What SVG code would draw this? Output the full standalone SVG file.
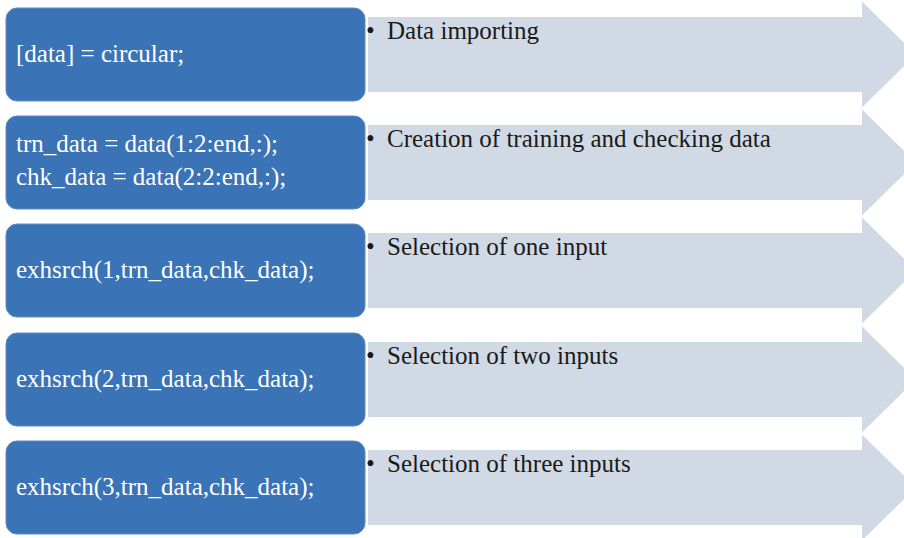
<svg xmlns="http://www.w3.org/2000/svg" width="904" height="538" viewBox="0 0 904 538">
<style>
.box{fill:#3A74B6;stroke:#5A8CC8;stroke-width:1}
.arr{fill:#D1D9E5}
.lt{font-family:"Liberation Serif","Times New Roman",serif;font-size:25px;fill:#FFFFFF}
.rt{font-family:"Liberation Serif","Times New Roman",serif;font-size:25px;fill:#1A1A1A}
</style>
<rect width="904" height="538" fill="#FFFFFF"/>
<g id="row1">
<path class="arr" d="M368,17 H862 V1.5 L916,54.5 L862,107.5 V92 H368 Z"/>
<rect class="box" x="6" y="8" width="359" height="93" rx="11"/>
<text class="lt" x="16" y="62">[data] = circular;</text>
<text class="rt" x="366" y="38.5">•</text>
<text class="rt" x="387" y="38.5">Data importing</text>
</g>
<g id="row2">
<path class="arr" d="M368,125 H862 V109.5 L916,162.5 L862,215.5 V200 H368 Z"/>
<rect class="box" x="6" y="116" width="359" height="93" rx="11"/>
<text class="lt" x="16" y="152">trn_data = data(1:2:end,:);</text>
<text class="lt" x="16" y="185">chk_data = data(2:2:end,:);</text>
<text class="rt" x="366" y="146.5">•</text>
<text class="rt" x="387" y="146.5">Creation of training and checking data</text>
</g>
<g id="row3">
<path class="arr" d="M368,233 H862 V217.5 L916,270.5 L862,323.5 V308 H368 Z"/>
<rect class="box" x="6" y="224" width="359" height="93" rx="11"/>
<text class="lt" x="16" y="278">exhsrch(1,trn_data,chk_data);</text>
<text class="rt" x="366" y="254.5">•</text>
<text class="rt" x="387" y="254.5">Selection of one input</text>
</g>
<g id="row4">
<path class="arr" d="M368,342 H862 V326.5 L916,379.5 L862,432.5 V417 H368 Z"/>
<rect class="box" x="6" y="333" width="359" height="93" rx="11"/>
<text class="lt" x="16" y="387">exhsrch(2,trn_data,chk_data);</text>
<text class="rt" x="366" y="363.5">•</text>
<text class="rt" x="387" y="363.5">Selection of two inputs</text>
</g>
<g id="row5">
<path class="arr" d="M368,450 H862 V434.5 L916,487.5 L862,540.5 V525 H368 Z"/>
<rect class="box" x="6" y="441" width="359" height="93" rx="11"/>
<text class="lt" x="16" y="495">exhsrch(3,trn_data,chk_data);</text>
<text class="rt" x="366" y="471.5">•</text>
<text class="rt" x="387" y="471.5">Selection of three inputs</text>
</g>
</svg>
